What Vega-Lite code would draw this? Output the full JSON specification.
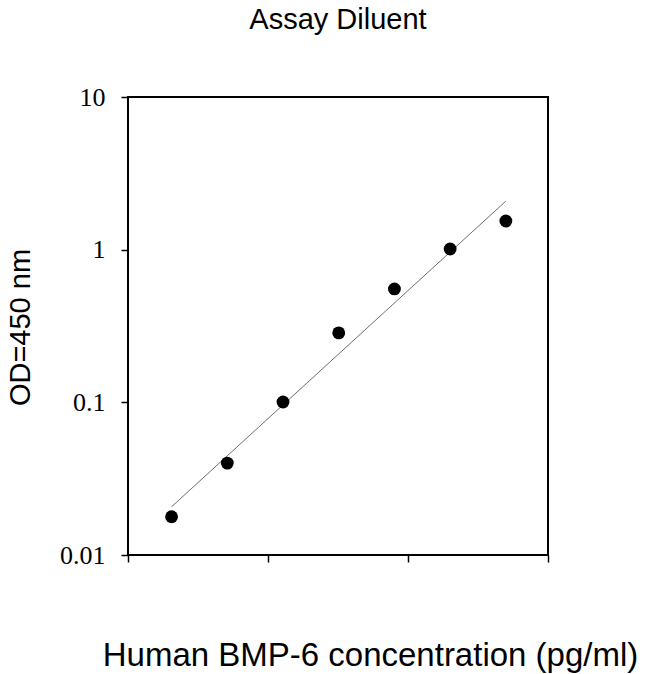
{
  "$schema": "https://vega.github.io/schema/vega-lite/v6.json",
  "width": 420,
  "height": 458,
  "autosize": {"type": "none"},
  "padding": {"left": 128, "top": 97, "right": 102, "bottom": 119},
  "background": "white",
  "title": {
    "text": "Assay Diluent",
    "font": "Liberation Sans",
    "fontSize": 29,
    "fontWeight": "normal",
    "color": "black",
    "anchor": "middle",
    "baseline": "alphabetic",
    "offset": 26
  },
  "config": {
    "view": {"stroke": "black", "strokeWidth": 2},
    "axis": {
      "grid": false,
      "domain": false,
      "tickColor": "black",
      "tickWidth": 1.5,
      "tickSize": 7,
      "labelColor": "black",
      "titleColor": "black",
      "titleFontWeight": "normal"
    }
  },
  "datasets": {
    "points": [
      {"conc": 2.048, "od": 0.0178},
      {"conc": 5.12, "od": 0.040},
      {"conc": 12.8, "od": 0.1005},
      {"conc": 32, "od": 0.285},
      {"conc": 80, "od": 0.553},
      {"conc": 200, "od": 1.01},
      {"conc": 500, "od": 1.54}
    ],
    "fit": [
      {"conc": 2.048, "od": 0.0207},
      {"conc": 500, "od": 2.08}
    ]
  },
  "layer": [
    {
      "data": {"name": "fit"},
      "mark": {"type": "line", "color": "#6e6e6e", "strokeWidth": 1},
      "encoding": {
        "x": {"field": "conc", "type": "quantitative"},
        "y": {"field": "od", "type": "quantitative"}
      }
    },
    {
      "data": {"name": "points"},
      "mark": {"type": "point", "shape": "circle", "filled": true, "color": "black", "opacity": 1, "size": 165},
      "encoding": {
        "x": {
          "field": "conc",
          "type": "quantitative",
          "scale": {"type": "log", "domain": [1, 1000], "nice": false},
          "axis": {
            "values": [1, 10, 100, 1000],
            "labels": false,
            "title": "Human BMP-6 concentration (pg/ml)",
            "titleFont": "Liberation Sans",
            "titleFontSize": 33,
            "titleX": 242,
            "titleY": 110,
            "titleAlign": "center",
            "titleBaseline": "alphabetic"
          }
        },
        "y": {
          "field": "od",
          "type": "quantitative",
          "scale": {"type": "log", "domain": [0.01, 10], "nice": false},
          "axis": {
            "values": [0.01, 0.1, 1, 10],
            "format": "~g",
            "labelFont": "Liberation Serif",
            "labelFontSize": 26,
            "labelPadding": 16,
            "title": "OD=450 nm",
            "titleFont": "Liberation Sans",
            "titleFontSize": 29,
            "titleAngle": 270,
            "titleX": -108,
            "titleY": 230,
            "titleAlign": "center",
            "titleBaseline": "middle"
          }
        }
      }
    }
  ]
}
